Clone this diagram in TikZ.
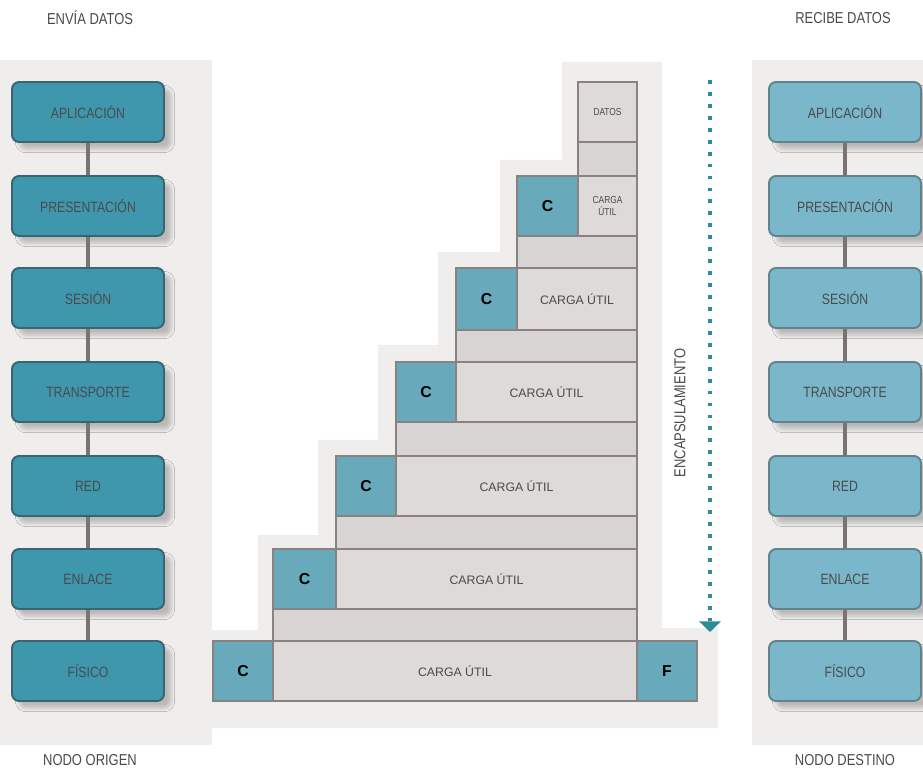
\documentclass[tikz,border=0pt]{standalone}
\usepackage{fontspec}
\setmainfont{Liberation Sans}
\newfontfamily\narrowfont[FakeStretch=0.82]{Liberation Sans}
\usetikzlibrary{shadows.blur,arrows.meta}

\definecolor{tealdark}{HTML}{3F97AE}
\definecolor{tealedge}{HTML}{3A6470}
\definecolor{teallight}{HTML}{7BB7CA}
\definecolor{tealledge}{HTML}{62838C}
\definecolor{headblue}{HTML}{68A9BC}
\definecolor{pktfill}{HTML}{DEDAD9}
\definecolor{pktedge}{HTML}{8A8281}
\definecolor{stripfill}{HTML}{D8D4D3}
\definecolor{linkgray}{HTML}{7A7372}
\definecolor{haze}{HTML}{F0EDED}
\definecolor{inkgray}{HTML}{4A4A4A}
\definecolor{arrowteal}{HTML}{2C8D98}

\begin{document}
\begin{tikzpicture}[x=0.02cm, y=-0.02cm,
  layerbase/.style={rounded corners=4pt, line width=1.1pt,
    minimum width=3.04cm, minimum height=1.2cm, inner sep=0pt,
    font=\narrowfont\fontsize{8.5}{9}\selectfont, text=inkgray,
    blur shadow={shadow xshift=4pt, shadow yshift=-4pt, shadow opacity=22, shadow blur steps=6}},
  layerL/.style={layerbase, draw=tealedge, fill=tealdark},
  layerR/.style={layerbase, draw=tealledge, fill=teallight},
  link/.style={draw=linkgray, line width=1.8pt},
  % a cell of the staircase: width and height in pixels of the drawing grid
  cell/.style 2 args={anchor=north west, inner sep=0pt, outer sep=0pt,
    minimum width={#1*0.02cm}, minimum height={#2*0.02cm}},
  pkt/.style={draw=pktedge, fill=pktfill, line width=1.4pt,
    font=\fontsize{7}{7.5}\selectfont, text=inkgray, align=center},
  smallpkt/.style={pkt, font=\narrowfont\fontsize{5.8}{6.3}\selectfont},
  strip/.style={draw=pktedge, fill=stripfill, line width=1.4pt},
  hdr/.style={draw=pktedge, fill=headblue, line width=1.4pt,
    font=\bfseries\fontsize{9}{10}\selectfont, text=black},
  caption/.style={font=\narrowfont\fontsize{9}{10}\selectfont, text=inkgray}
]
\useasboundingbox (0,0) rectangle (923,773);

% soft background behind the three groups
\fill[haze] (0,60) rectangle (212,745);
\fill[haze] (752,60) rectangle (923,745);
\fill[haze] (562,62) -- (662,62) -- (662,628) -- (718,628) -- (718,728)
  -- (196,728) -- (196,630) -- (258,630) -- (258,535) -- (318,535)
  -- (318,440) -- (378,440) -- (378,345) -- (438,345) -- (438,252)
  -- (500,252) -- (500,160) -- (562,160) -- cycle;

% captions
\node[caption] (tl) at (90,18) {ENVÍA DATOS};
\node[caption] (tr) at (843,18) {RECIBE DATOS};
\node[caption] (bl) at (90,760) {NODO ORIGEN};
\node[caption] (br) at (845,760) {NODO DESTINO};

% sending stack
\node[layerL] (l1) at (88,112) {APLICACIÓN};
\node[layerL] (l2) at (88,206) {PRESENTACIÓN};
\node[layerL] (l3) at (88,298) {SESIÓN};
\node[layerL] (l4) at (88,392) {TRANSPORTE};
\node[layerL] (l5) at (88,486) {RED};
\node[layerL] (l6) at (88,579) {ENLACE};
\node[layerL] (l7) at (88,671) {FÍSICO};

% receiving stack
\node[layerR] (r1) at (845,112) {APLICACIÓN};
\node[layerR] (r2) at (845,206) {PRESENTACIÓN};
\node[layerR] (r3) at (845,298) {SESIÓN};
\node[layerR] (r4) at (845,392) {TRANSPORTE};
\node[layerR] (r5) at (845,486) {RED};
\node[layerR] (r6) at (845,579) {ENLACE};
\node[layerR] (r7) at (845,671) {FÍSICO};

\foreach \a/\b in {1/2,2/3,3/4,4/5,5/6,6/7}{
  \draw[link] (l\a.south) -- (l\b.north);
  \draw[link] (r\a.south) -- (r\b.north);
}

% encapsulation staircase
\node[smallpkt, cell={59}{60}] (d1) at (578,82) {DATOS};
\node[strip, cell={59}{34}] (s1) at (578,142) {};

\node[hdr, cell={61}{60}] (c2) at (517,176) {C};
\node[smallpkt, cell={59}{60}] (d2) at (578,176) {CARGA\\ÚTIL};
\node[strip, cell={120}{32}] (s2) at (517,236) {};

\node[hdr, cell={61}{62}] (c3) at (456,268) {C};
\node[pkt, cell={120}{62}] (d3) at (517,268) {CARGA ÚTIL};
\node[strip, cell={181}{32}] (s3) at (456,330) {};

\node[hdr, cell={60}{60}] (c4) at (396,362) {C};
\node[pkt, cell={181}{60}] (d4) at (456,362) {CARGA ÚTIL};
\node[strip, cell={241}{34}] (s4) at (396,422) {};

\node[hdr, cell={60}{60}] (c5) at (336,456) {C};
\node[pkt, cell={241}{60}] (d5) at (396,456) {CARGA ÚTIL};
\node[strip, cell={301}{33}] (s5) at (336,516) {};

\node[hdr, cell={63}{60}] (c6) at (273,549) {C};
\node[pkt, cell={301}{60}] (d6) at (336,549) {CARGA ÚTIL};
\node[strip, cell={364}{32}] (s6) at (273,609) {};

\node[hdr, cell={60}{60}] (c7) at (213,641) {C};
\node[pkt, cell={364}{60}] (d7) at (273,641) {CARGA ÚTIL};
\node[hdr, cell={60}{60}] (f7) at (637,641) {F};

% encapsulation arrow
\coordinate (atop) at (710,80);
\coordinate (abot) at (710,632);
\draw[arrowteal, line width=2.4pt, dash pattern=on 2.2pt off 4.6pt,
  -{Triangle[width=12pt,length=6pt]}] (atop) -- (abot);
\node[caption, rotate=90] (enc) at (680,413) {ENCAPSULAMIENTO};
\end{tikzpicture}
\end{document}
